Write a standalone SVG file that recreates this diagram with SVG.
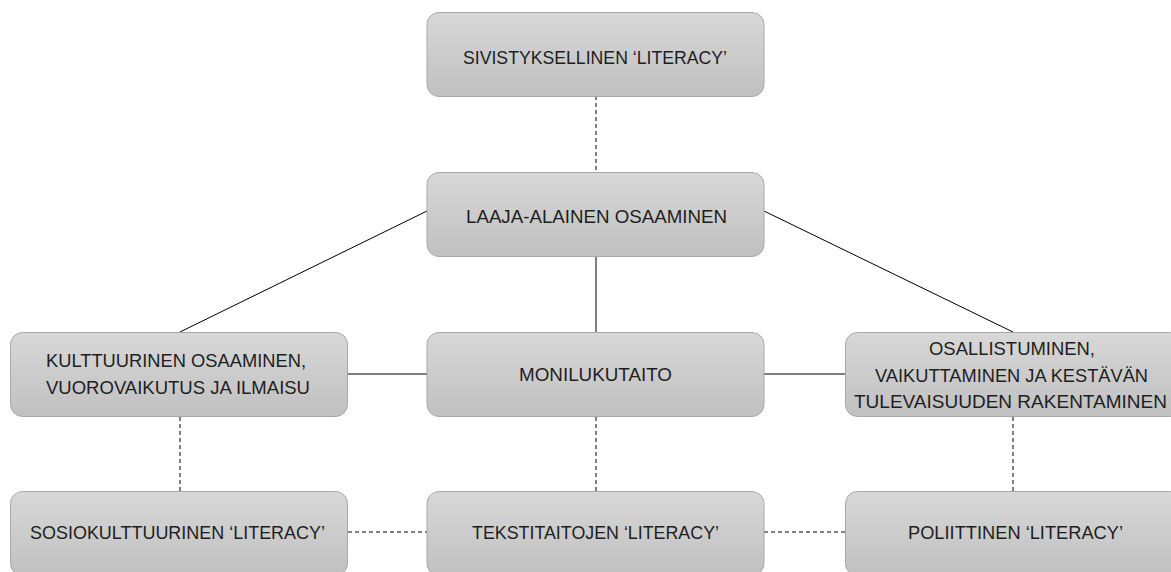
<svg xmlns="http://www.w3.org/2000/svg" width="1171" height="572" viewBox="0 0 1171 572">
<defs>
<linearGradient id="g" x1="0" y1="0" x2="0" y2="1">
<stop offset="0" stop-color="#d8d8d8"/>
<stop offset="1" stop-color="#c0c0c0"/>
</linearGradient>
<style>
.box{fill:url(#g);stroke:#a8a8a8;stroke-width:1}
.t{font-family:"Liberation Sans",Arial,sans-serif;font-size:18.5px;fill:#1e1e1e;text-anchor:middle}
.s{stroke:#000;stroke-width:1;fill:none}
.d{stroke:#000;stroke-width:1;fill:none;stroke-dasharray:4,3}
</style>
</defs>
<rect width="1171" height="572" fill="#fff"/>
<g id="connectors">
<line class="d" x1="596" y1="96" x2="596" y2="172"/>
<line class="s" x1="427" y1="211" x2="180" y2="332"/>
<line class="s" x1="764" y1="211" x2="1013" y2="332"/>
<line class="s" x1="596" y1="256" x2="596" y2="332"/>
<line class="s" x1="348" y1="374" x2="427" y2="374"/>
<line class="s" x1="764" y1="374" x2="845" y2="374"/>
<line class="d" x1="180" y1="417" x2="180" y2="491"/>
<line class="d" x1="596" y1="417" x2="596" y2="491"/>
<line class="d" x1="1013" y1="417" x2="1013" y2="491"/>
<line class="d" x1="348" y1="532" x2="427" y2="532"/>
<line class="d" x1="764" y1="532" x2="845" y2="532"/>
</g>
<g id="n1"><rect class="box" x="427" y="12.5" width="337" height="84" rx="12"/><text class="t" x="595" y="63.5" textLength="264" lengthAdjust="spacingAndGlyphs">SIVISTYKSELLINEN ‘LITERACY’</text></g>
<g id="n2"><rect class="box" x="427" y="172.5" width="337" height="84" rx="12"/><text class="t" x="596.5" y="223" textLength="261" lengthAdjust="spacingAndGlyphs">LAAJA-ALAINEN OSAAMINEN</text></g>
<g id="n3"><rect class="box" x="10.5" y="332.5" width="337" height="84" rx="12"/><text class="t" x="176" y="367" textLength="260" lengthAdjust="spacingAndGlyphs">KULTTUURINEN OSAAMINEN,</text><text class="t" x="178" y="394" textLength="264" lengthAdjust="spacingAndGlyphs">VUOROVAIKUTUS JA ILMAISU</text></g>
<g id="n4"><rect class="box" x="427" y="332.5" width="337" height="84" rx="12"/><text class="t" x="595.5" y="381" textLength="153" lengthAdjust="spacingAndGlyphs">MONILUKUTAITO</text></g>
<g id="n5"><rect class="box" x="845.5" y="332.5" width="337" height="84" rx="12"/><text class="t" x="1012" y="355" textLength="166" lengthAdjust="spacingAndGlyphs">OSALLISTUMINEN,</text><text class="t" x="1011.5" y="381.5" textLength="273" lengthAdjust="spacingAndGlyphs">VAIKUTTAMINEN JA KESTÄVÄN</text><text class="t" x="1010.5" y="407.5" textLength="313" lengthAdjust="spacingAndGlyphs">TULEVAISUUDEN RAKENTAMINEN</text></g>
<g id="n6"><rect class="box" x="10.5" y="491.5" width="337" height="84" rx="12"/><text class="t" x="177.5" y="539" textLength="295" lengthAdjust="spacingAndGlyphs">SOSIOKULTTUURINEN ‘LITERACY’</text></g>
<g id="n7"><rect class="box" x="427" y="491.5" width="337" height="84" rx="12"/><text class="t" x="595.5" y="539" textLength="247" lengthAdjust="spacingAndGlyphs">TEKSTITAITOJEN ‘LITERACY’</text></g>
<g id="n8"><rect class="box" x="845.5" y="491.5" width="337" height="84" rx="12"/><text class="t" x="1015.5" y="539" textLength="215" lengthAdjust="spacingAndGlyphs">POLIITTINEN ‘LITERACY’</text></g>
</svg>
